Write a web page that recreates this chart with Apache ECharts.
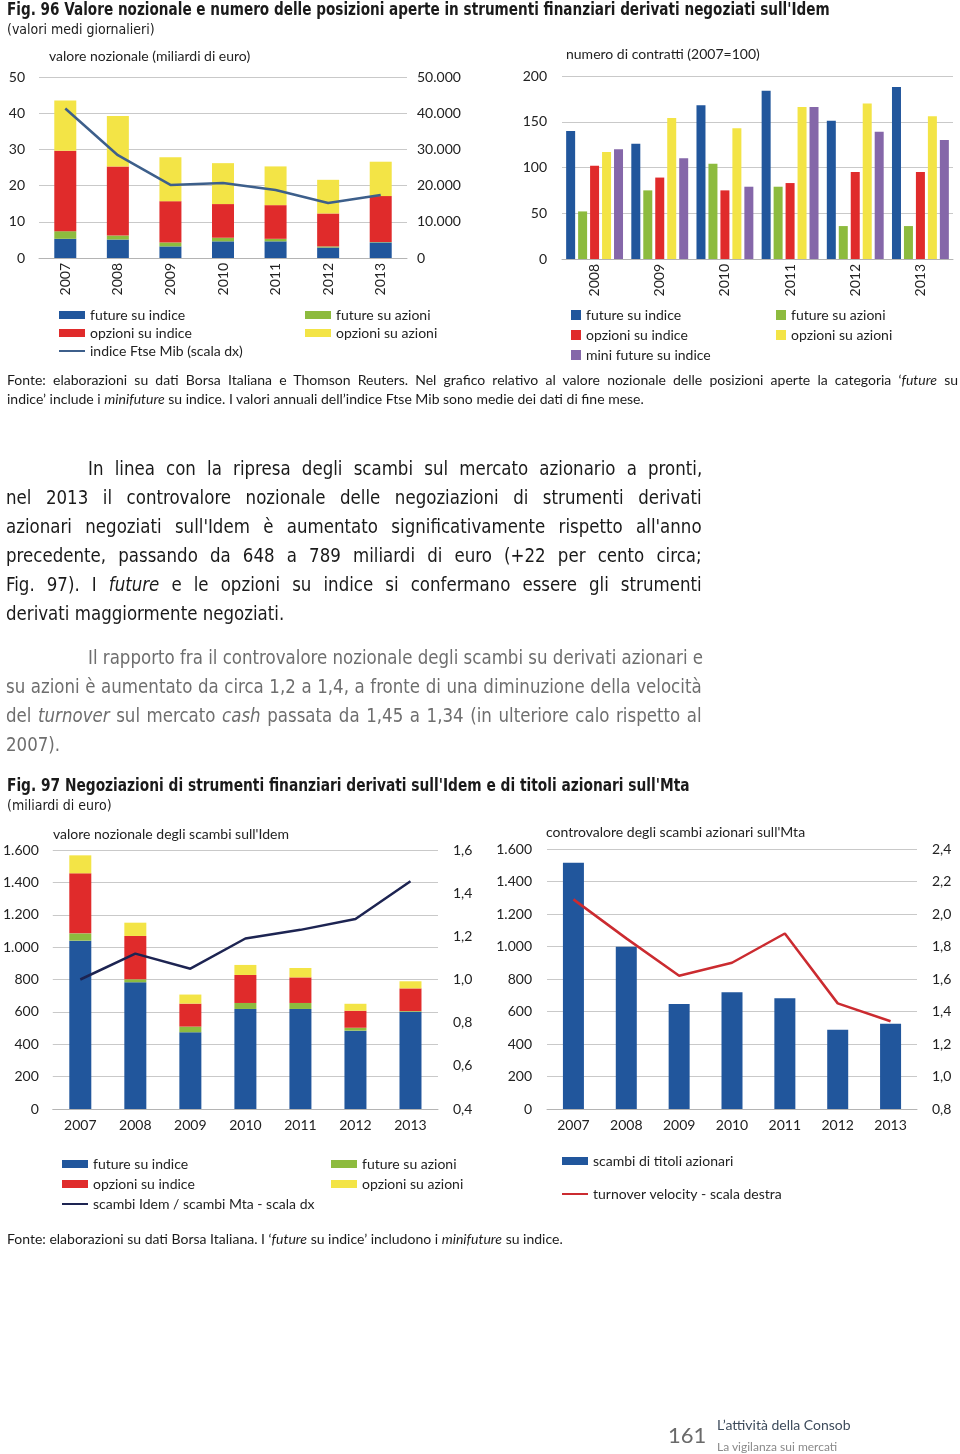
<!DOCTYPE html>
<html>
<head>
<meta charset="utf-8">
<script src="https://cdn.jsdelivr.net/npm/echarts@6/dist/echarts.min.js"></script>
<style>
  html, body { margin:0; padding:0; background:#fff; }
  #page { position:relative; width:960px; height:1454px; overflow:hidden; background:#fff; }
  #chart { position:absolute; left:0; top:0; width:960px; height:1454px; }
  .t { position:absolute; white-space:nowrap; color:#1a1a1a; pointer-events:none; }
  .narrow { font-family:"DejaVu Sans Condensed","DejaVu Sans","Noto Sans",sans-serif; }
  .sq { transform-origin:0 0; }
  .body { font-size:20px; height:29px; line-height:29px; left:6px; width:752px; transform:scaleX(0.925); transform-origin:0 0; text-align:justify; text-align-last:justify; }
  .body.last { text-align:left; text-align-last:left; }
  .body.ind { left:88px; width:664px; }
  .gray { color:#6e6e6e; }
  .fonte { font-family:Lato,"Open Sans",sans-serif; font-size:14px; height:19px; line-height:19px; left:7px; }
</style>
</head>
<body>
<div id="page">
  <div id="chart"></div>

  <div class="t narrow sq" style="left:7px;top:0;height:19px;line-height:19px;font-size:17px;font-weight:bold;transform:scaleX(0.89);">Fig. 96 Valore nozionale e numero delle posizioni aperte in strumenti finanziari derivati negoziati sull'Idem</div>
  <div class="t narrow" style="left:7px;top:20px;height:18px;line-height:18px;font-size:14px;">(valori medi giornalieri)</div>

  <div class="t fonte" style="top:370px;width:951px;text-align:justify;text-align-last:justify;">Fonte: elaborazioni su dati Borsa Italiana e Thomson Reuters. Nel grafico relativo al valore nozionale delle posizioni aperte la categoria ‘<i>future</i> su</div>
  <div class="t fonte" style="top:389px;">indice’ include i <i>minifuture</i> su indice. I valori annuali dell’indice Ftse Mib sono medie dei dati di fine mese.</div>

  <div class="t narrow body ind" style="top:454px;">In linea con la ripresa degli scambi sul mercato azionario a pronti,</div>
  <div class="t narrow body" style="top:483px;">nel 2013 il controvalore nozionale delle negoziazioni di strumenti derivati</div>
  <div class="t narrow body" style="top:512px;">azionari negoziati sull'Idem è aumentato significativamente rispetto all'anno</div>
  <div class="t narrow body" style="top:541px;">precedente, passando da 648 a 789 miliardi di euro (+22 per cento circa;</div>
  <div class="t narrow body" style="top:570px;">Fig. 97). I <i>future</i> e le opzioni su indice si confermano essere gli strumenti</div>
  <div class="t narrow body last" style="top:599px;">derivati maggiormente negoziati.</div>

  <div class="t narrow body ind gray" style="top:643px;">Il rapporto fra il controvalore nozionale degli scambi su derivati azionari e</div>
  <div class="t narrow body gray" style="top:672px;">su azioni è aumentato da circa 1,2 a 1,4, a fronte di una diminuzione della velocità</div>
  <div class="t narrow body gray" style="top:701px;">del <i>turnover</i> sul mercato <i>cash</i> passata da 1,45 a 1,34 (in ulteriore calo rispetto al</div>
  <div class="t narrow body last gray" style="top:730px;">2007).</div>

  <div class="t narrow sq" style="left:7px;top:776px;height:19px;line-height:19px;font-size:17px;font-weight:bold;transform:scaleX(0.9);">Fig. 97 Negoziazioni di strumenti finanziari derivati sull'Idem e di titoli azionari sull'Mta</div>
  <div class="t narrow" style="left:7px;top:796px;height:18px;line-height:18px;font-size:14px;">(miliardi di euro)</div>

  <div class="t fonte" style="top:1229px;">Fonte: elaborazioni su dati Borsa Italiana. I ‘<i>future</i> su indice’ includono i <i>minifuture</i> su indice.</div>

  <div class="t" style="left:668px;top:1422px;height:26px;line-height:26px;font-family:Lato,sans-serif;font-size:22px;color:#6a6a6a;">161</div>
  <div class="t" style="left:717px;top:1416px;height:18px;line-height:18px;font-family:Lato,sans-serif;font-size:14px;color:#3e4c5c;">L’attività della Consob</div>
  <div class="t" style="left:717px;top:1439px;height:16px;line-height:16px;font-family:Lato,sans-serif;font-size:12px;color:#8a8a8a;">La vigilanza sui mercati</div>
</div>
<script>
// ---------- categories ----------
const years7 = ['2007','2008','2009','2010','2011','2012','2013'];
const years6 = ['2008','2009','2010','2011','2012','2013'];

// ---------- Fig. 96 left: valore nozionale (miliardi di euro) ----------
const oiFutIdx = [5.3, 5.1, 3.2, 4.6, 4.6, 2.9, 4.3];
const oiFutAz  = [2.1, 1.1, 1.1, 1.0, 0.7, 0.3, 0.1];
const oiOpzIdx = [22.2, 19.1, 11.4, 9.3, 9.3, 9.1, 12.7];
const oiOpzAz  = [13.9, 13.9, 12.1, 11.3, 10.7, 9.3, 9.5];
const ftseMib  = [41300, 28400, 20200, 20700, 18800, 15200, 17400];

// ---------- Fig. 96 right: numero di contratti (2007=100) ----------
const nFutIdx  = [140, 126, 168, 184, 151, 188];
const nFutAz   = [52, 75, 104, 79, 36, 36];
const nOpzIdx  = [102, 89, 75, 83, 95, 95];
const nOpzAz   = [117, 154, 143, 166, 170, 156];
const nMiniFut = [120, 110, 79, 166, 139, 130];

// ---------- Fig. 97 left: valore nozionale degli scambi sull'Idem ----------
const tFutIdx = [1040, 783, 474, 618, 618, 484, 601];
const tFutAz  = [45, 18, 35, 37, 37, 18, 4];
const tOpzIdx = [371, 268, 142, 173, 158, 105, 140];
const tOpzAz  = [111, 82, 56, 62, 58, 43, 44];
const ratioIdemMta = [1.0, 1.12, 1.05, 1.19, 1.23, 1.28, 1.455];

// ---------- Fig. 97 right: controvalore scambi azionari sull'Mta ----------
const mtaTrades = [1516, 999, 646, 718, 681, 488, 525];
const turnover  = [2.09, 1.85, 1.62, 1.70, 1.88, 1.45, 1.34];

// ---------- styles ----------
const C = { blue:'#21569c', green:'#8dbb3e', red:'#e02b2b', yellow:'#f3e446', purple:'#8567a9',
            line1:'#3d5f8b', line3:'#1d2452', line4:'#cb2b30' };
const FONT = 'Lato, "Open Sans", sans-serif';
const TXT = '#222';
const thou = v => String(Math.round(v)).replace(/\B(?=(\d{3})+(?!\d))/g, '.');
const dec1 = v => (Math.round(v*10)/10).toFixed(1).replace('.', ',');

function yAx(gi, min, max, interval, pos, margin, fmt, split) {
  return { type:'value', gridIndex:gi, min, max, interval, position:pos,
    axisLine:{show:false}, axisTick:{show:false},
    splitLine:{show:split, lineStyle:{color:'#c9c9c9', width:1}},
    axisLabel:{color:TXT, fontFamily:FONT, fontSize:14, margin, formatter:fmt} };
}
function xAx(gi, data, rotate, margin) {
  return { type:'category', gridIndex:gi, data,
    axisLine:{show:true, lineStyle:{color:'#b4b4b4', width:1}}, axisTick:{show:false},
    axisLabel:{color:TXT, fontFamily:FONT, fontSize:14, rotate, margin, interval:0} };
}
function bar(name, data, color, xi, yi, stack, width) {
  const s = { type:'bar', name, data, xAxisIndex:xi, yAxisIndex:yi, barWidth:width,
    itemStyle:{color}, emphasis:{disabled:true}, animation:false };
  if (stack) s.stack = stack;
  return s;
}
function line(name, data, color, xi, yi) {
  return { type:'line', name, data, xAxisIndex:xi, yAxisIndex:yi, symbol:'none', showSymbol:false,
    lineStyle:{color, width:2.5}, itemStyle:{color}, emphasis:{disabled:true}, animation:false, z:5 };
}
function leg(left, top, items, w, h, gap) {
  return { left, top, orient:'vertical', itemWidth:w, itemHeight:h, itemGap:gap, padding:0,
    selectedMode:false, data:items,
    textStyle:{color:TXT, fontFamily:FONT, fontSize:14, lineHeight:14} };
}
function ttl(text, left, top) {
  return { text, left, top, padding:0,
    textStyle:{color:TXT, fontFamily:FONT, fontSize:14, fontWeight:'normal'} };
}
const lineItem = name => ({ name, itemStyle:{opacity:0} });

const option = {
  animation:false,
  backgroundColor:'transparent',
  title:[
    ttl('valore nozionale (miliardi di euro)', 49, 49),
    ttl('numero di contratti (2007=100)', 566, 47),
    ttl("valore nozionale degli scambi sull'Idem", 53, 827),
    ttl("controvalore degli scambi azionari sull'Mta", 546, 825)
  ],
  grid:[
    {left:39, top:77, width:368, height:181},
    {left:562, top:76, width:391, height:183},
    {left:50, top:850, width:388, height:259},
    {left:547, top:849, width:370, height:260}
  ],
  xAxis:[
    xAx(0, years7, 90, 5),
    xAx(1, years6, 90, 5),
    xAx(2, years7, 0, 9),
    xAx(3, years7, 0, 9)
  ],
  yAxis:[
    yAx(0, 0, 50, 10, 'left', 14, v => String(v), true),
    yAx(0, 0, 50000, 10000, 'right', 10, thou, false),
    yAx(1, 0, 200, 50, 'left', 15, v => String(v), true),
    yAx(2, 0, 1600, 200, 'left', 14, thou, true),
    yAx(2, 0.4, 1.6, 0.2, 'right', 15, dec1, false),
    yAx(3, 0, 1600, 200, 'left', 15, thou, true),
    yAx(3, 0.8, 2.4, 0.2, 'right', 15, dec1, false)
  ],
  legend:[
    leg(58, 308, [{name:'future su indice',icon:'rect'},{name:'opzioni su indice',icon:'rect'},lineItem('indice Ftse Mib (scala dx)')], 26, 8, 4),
    leg(305, 308, [{name:'future su azioni',icon:'rect'},{name:'opzioni su azioni',icon:'rect'}], 26, 8, 4),
    leg(571, 308, [{name:'future su indice',icon:'rect'},{name:'opzioni su indice',icon:'rect'},{name:'mini future su indice',icon:'rect'}], 10, 10, 6),
    leg(776, 308, [{name:'future su azioni',icon:'rect'},{name:'opzioni su azioni',icon:'rect'}], 10, 10, 6),
    leg(61, 1157, [{name:'future su indice',icon:'rect'},{name:'opzioni su indice',icon:'rect'},lineItem('scambi Idem / scambi Mta - scala dx')], 26, 8, 6),
    leg(331, 1157, [{name:'future su azioni',icon:'rect'},{name:'opzioni su azioni',icon:'rect'}], 26, 8, 6),
    leg(561, 1154, [{name:'scambi di titoli azionari',icon:'rect'},lineItem('turnover velocity - scala destra')], 26, 8, 19)
  ],
  series:[
    // Fig 96 left
    bar('future su indice', oiFutIdx, C.blue, 0, 0, 's1', 22),
    bar('future su azioni', oiFutAz, C.green, 0, 0, 's1', 22),
    bar('opzioni su indice', oiOpzIdx, C.red, 0, 0, 's1', 22),
    bar('opzioni su azioni', oiOpzAz, C.yellow, 0, 0, 's1', 22),
    line('indice Ftse Mib (scala dx)', ftseMib, C.line1, 0, 1),
    // Fig 96 right
    Object.assign(bar('future su indice', nFutIdx, C.blue, 1, 2, null, 9), {barGap:'33%'}),
    Object.assign(bar('future su azioni', nFutAz, C.green, 1, 2, null, 9), {barGap:'33%'}),
    Object.assign(bar('opzioni su indice', nOpzIdx, C.red, 1, 2, null, 9), {barGap:'33%'}),
    Object.assign(bar('opzioni su azioni', nOpzAz, C.yellow, 1, 2, null, 9), {barGap:'33%'}),
    Object.assign(bar('mini future su indice', nMiniFut, C.purple, 1, 2, null, 9), {barGap:'33%'}),
    // Fig 97 left
    bar('future su indice', tFutIdx, C.blue, 2, 3, 's3', 22),
    bar('future su azioni', tFutAz, C.green, 2, 3, 's3', 22),
    bar('opzioni su indice', tOpzIdx, C.red, 2, 3, 's3', 22),
    bar('opzioni su azioni', tOpzAz, C.yellow, 2, 3, 's3', 22),
    line('scambi Idem / scambi Mta - scala dx', ratioIdemMta, C.line3, 2, 4),
    // Fig 97 right
    bar('scambi di titoli azionari', mtaTrades, C.blue, 3, 5, null, 21),
    line('turnover velocity - scala destra', turnover, C.line4, 3, 6)
  ]
};

const chart = echarts.init(document.getElementById('chart'), null, {renderer:'canvas'});
chart.setOption(option);
</script>
</body>
</html>
